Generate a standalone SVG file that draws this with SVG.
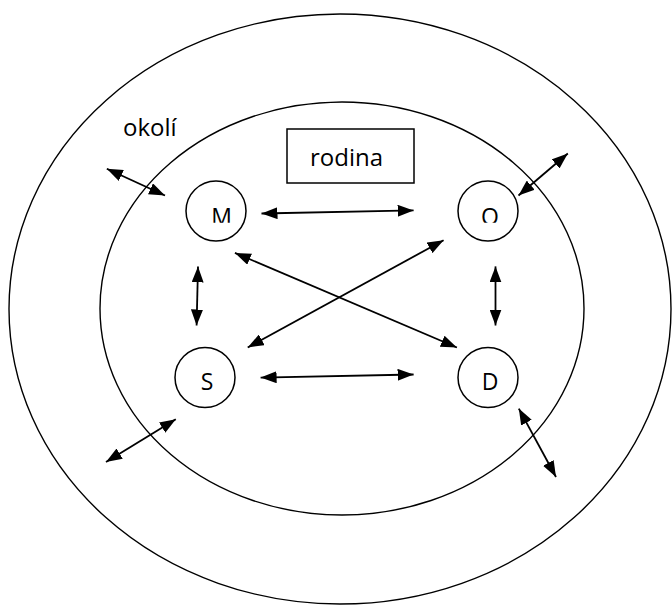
<svg xmlns="http://www.w3.org/2000/svg" width="672" height="605" viewBox="0 0 672 605">
  <style>
    .ring { fill: none; stroke: #000; stroke-width: 1.4; }
    .node { fill: none; stroke: #000; stroke-width: 1.5; }
    .lbl { font-family: "Open Sans", "Liberation Sans", sans-serif; font-size: 23px; fill: #000; }
    .big { font-size: 24px; }
    .link { stroke: #000; stroke-width: 1.8; fill: none; marker-start: url(#head); marker-end: url(#head); }
  </style>
  <defs>
    <marker id="head" viewBox="0 0 16 12" refX="16" refY="6" markerWidth="16" markerHeight="12" markerUnits="userSpaceOnUse" orient="auto-start-reverse">
      <path d="M0,0 L16,6 L0,12 z" fill="#000"/>
    </marker>
    <clipPath id="cut-top-row">
      <rect x="0" y="0" width="672" height="222.8"/>
    </clipPath>
  </defs>
  <rect width="672" height="605" fill="#fff"/>

  <!-- surroundings and family boundaries -->
  <g id="okoli">
    <ellipse class="ring" cx="340" cy="309" rx="331" ry="295"/>
    <text class="lbl big" x="123" y="136">okolí</text>
  </g>
  <g id="rodina">
    <ellipse class="ring" cx="342" cy="308.5" rx="242" ry="206.5"/>
    <rect class="node" x="287" y="129" width="127" height="54"/>
    <text class="lbl big" x="310" y="166">rodina</text>
  </g>

  <!-- family members -->
  <g id="node-M">
    <circle class="node" cx="216" cy="211" r="30"/>
    <text class="lbl" x="221.5" y="224.5" text-anchor="middle" clip-path="url(#cut-top-row)">M</text>
  </g>
  <g id="node-O">
    <circle class="node" cx="488" cy="211" r="30"/>
    <text class="lbl" x="490" y="224.5" text-anchor="middle" clip-path="url(#cut-top-row)">O</text>
  </g>
  <g id="node-S">
    <circle class="node" cx="205" cy="377.5" r="30"/>
    <text class="lbl" x="207" y="390" text-anchor="middle">S</text>
  </g>
  <g id="node-D">
    <circle class="node" cx="488" cy="377.5" r="30"/>
    <text class="lbl" x="490" y="389.5" text-anchor="middle">D</text>
  </g>

  <!-- two-way relations -->
  <g id="connectors">
    <line class="link" x1="261.5" y1="213.5" x2="413.6" y2="210.4"/>
    <line class="link" x1="260.6" y1="377.6" x2="413.6" y2="374.5"/>
    <line class="link" x1="198" y1="266.4" x2="196.6" y2="325.5"/>
    <line class="link" x1="495.5" y1="266.4" x2="495.5" y2="325.5"/>
    <line class="link" x1="234.9" y1="252.9" x2="456.9" y2="347.5"/>
    <line class="link" x1="443.6" y1="240.2" x2="247.7" y2="347.5"/>
    <line class="link" x1="106.8" y1="168.8" x2="165" y2="195.5"/>
    <line class="link" x1="518.5" y1="195.5" x2="567.8" y2="153.5"/>
    <line class="link" x1="175.8" y1="419.2" x2="106" y2="462"/>
    <line class="link" x1="518.8" y1="408.6" x2="556" y2="477"/>
  </g>
</svg>
